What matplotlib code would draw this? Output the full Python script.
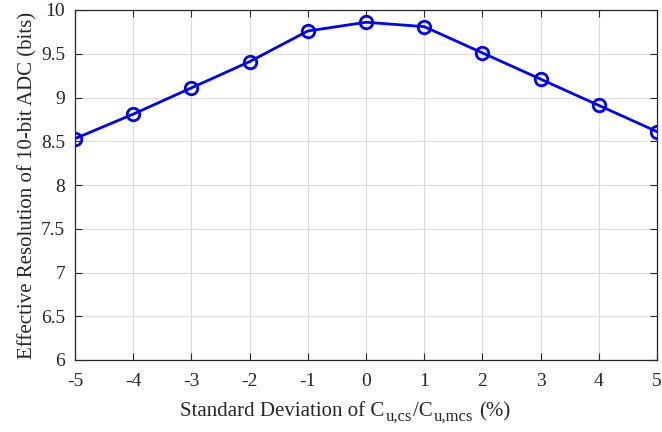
import matplotlib
matplotlib.use("Agg")
import matplotlib.pyplot as plt

# Data
std_dev = [-5, -4, -3, -2, -1, 0, 1, 2, 3, 4, 5]
enob = [8.53, 8.81, 9.11, 9.41, 9.76, 9.86, 9.81, 9.51, 9.21, 8.91, 8.61]
x_ticks = [-5, -4, -3, -2, -1, 0, 1, 2, 3, 4, 5]
y_ticks = [6, 6.5, 7, 7.5, 8, 8.5, 9, 9.5, 10]
y_tick_labels = ['6', '6.5', '7', '7.5', '8', '8.5', '9', '9.5', '10']

# x label pieces: (text, is_subscript)
xlabel_parts = [('Standard Deviation of C', False), ('u,cs', True),
                ('/C', False), ('u,mcs', True), ('(%)', False)]
ylabel = 'Effective Resolution of 10-bit ADC (bits)'

plt.rcParams['font.family'] = ['Liberation Serif', 'DejaVu Serif']
plt.rcParams['axes.unicode_minus'] = False
TXT = '#262626'

W, H = 662, 432
fig = plt.figure(figsize=(W / 100, H / 100), dpi=100)
ax = fig.add_axes([75 / W, 1 - 360 / H, 582 / W, 350 / H])

ax.plot(std_dev, enob, color='#0000ff', linewidth=2, marker='o',
        markersize=9, markerfacecolor='none', markeredgewidth=2)

ax.set_xlim(-5, 5)
ax.set_ylim(6, 10)
ax.set_xticks(x_ticks)
ax.set_xticklabels([str(v) for v in x_ticks])
ax.set_yticks(y_ticks)
ax.set_yticklabels(y_tick_labels)
ax.grid(True, color='#dcdcdc', linewidth=0.8)
ax.set_axisbelow(True)

for sp in ax.spines.values():
    sp.set_color(TXT)
    sp.set_linewidth(0.9)
ax.tick_params(direction='in', top=True, right=True, length=5,
               color=TXT, labelsize=14, labelcolor=TXT)
ax.tick_params(axis='x', pad=9)
ax.tick_params(axis='y', pad=7)

ax.set_ylabel(ylabel, fontsize=15, color=TXT, labelpad=3)

# x label built piece by piece, MATLAB-style subscripts (bigger and lower)
renderer = fig.canvas.get_renderer()
x = 180
base = H - 416
for i, (s, sub) in enumerate(xlabel_parts):
    if i == len(xlabel_parts) - 1:
        x += 6
    size = 12 if sub else 15
    y = base - 5 if sub else base
    t = fig.text(x / W, y / H, s, fontsize=size, color=TXT,
                 ha='left', va='baseline')
    bb = t.get_window_extent(renderer)
    x = bb.x1 + 1

fig.savefig('out.png', dpi=100)
